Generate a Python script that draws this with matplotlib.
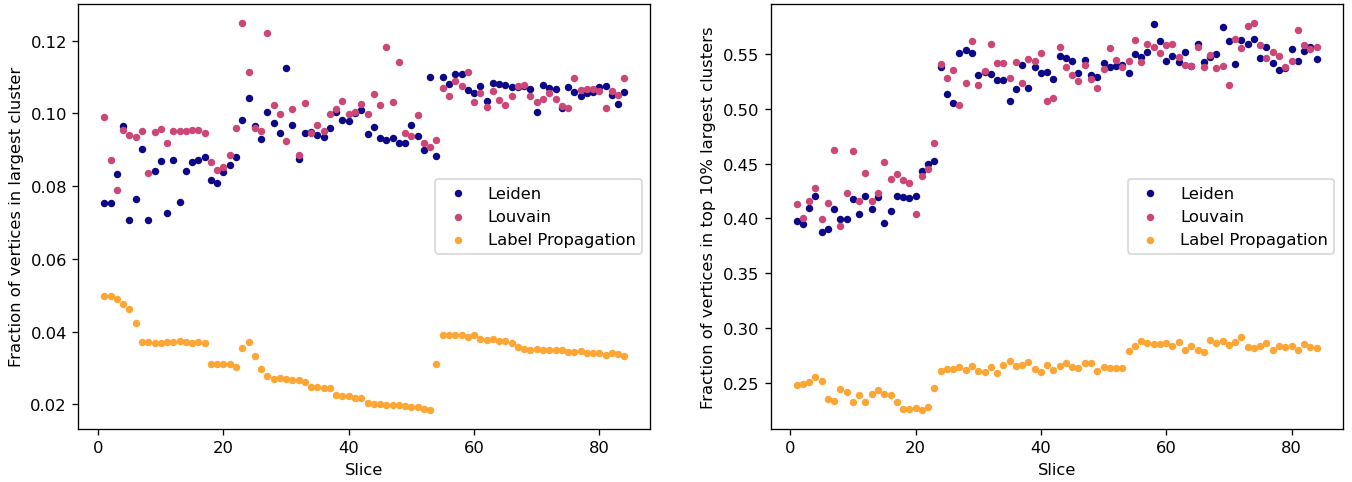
import numpy as np
import matplotlib
matplotlib.use("Agg")
import matplotlib.pyplot as plt

# ==============================
# DADOS
# ==============================

slices = list(range(1, 85))

# fraction of vertices in the largest cluster
leiden_largest = [
    0.0753, 0.0753, 0.0833, 0.0966, 0.0708, 0.0764, 0.0903, 0.0708, 0.0843, 0.0869,
    0.0726, 0.0871, 0.0757, 0.0843, 0.0867, 0.0871, 0.0880, 0.0818, 0.0810, 0.0839,
    0.0858, 0.0879, 0.0983, 0.1042, 0.0966, 0.0931, 0.1005, 0.0974, 0.0946, 0.1126,
    0.0968, 0.0876, 0.0945, 0.0948, 0.0941, 0.0936, 0.0959, 0.1005, 0.0982, 0.0980,
    0.1000, 0.1008, 0.0944, 0.0962, 0.0933, 0.0927, 0.0932, 0.0919, 0.0918, 0.0969,
    0.0937, 0.0899, 0.1100, 0.0883, 0.1100, 0.1080, 0.1107, 0.1107, 0.1065, 0.1055,
    0.1074, 0.1035, 0.1084, 0.1081, 0.1079, 0.1072, 0.1072, 0.1076, 0.1066, 0.1004,
    0.1077, 0.1071, 0.1066, 0.1016, 0.1072, 0.1059, 0.1047, 0.1056, 0.1058, 0.1072,
    0.1076, 0.1051, 0.1027, 0.1059,
]
louvain_largest = [
    0.0989, 0.0871, 0.0790, 0.0954, 0.0942, 0.0934, 0.0951, 0.0835, 0.0948, 0.0956,
    0.0919, 0.0951, 0.0953, 0.0951, 0.0954, 0.0954, 0.0946, 0.0867, 0.0844, 0.0852,
    0.0886, 0.0959, 0.1248, 0.1115, 0.0961, 0.0953, 0.1220, 0.1022, 0.0998, 0.0924,
    0.1012, 0.0887, 0.1029, 0.0945, 0.0969, 0.0952, 0.0997, 0.1011, 0.1033, 0.0998,
    0.1004, 0.1025, 0.0997, 0.1054, 0.1022, 0.1182, 0.1031, 0.1142, 0.0945, 0.0938,
    0.0995, 0.0920, 0.0907, 0.0926, 0.1071, 0.1049, 0.1089, 0.1076, 0.1113, 0.1032,
    0.1055, 0.1018, 0.1061, 0.1038, 0.1023, 0.1049, 0.1074, 0.1079, 0.1049, 0.1032,
    0.1039, 0.1055, 0.1040, 0.1019, 0.1016, 0.1096, 0.1063, 0.1067, 0.1068, 0.1062,
    0.1016, 0.1061, 0.1050, 0.1096,
]
labelprop_largest = [
    0.0497, 0.0497, 0.0491, 0.0475, 0.0463, 0.0425, 0.0372, 0.0371, 0.0370, 0.0370,
    0.0372, 0.0371, 0.0374, 0.0372, 0.0370, 0.0371, 0.0370, 0.0312, 0.0312, 0.0312,
    0.0312, 0.0303, 0.0355, 0.0372, 0.0332, 0.0298, 0.0278, 0.0270, 0.0272, 0.0269,
    0.0268, 0.0268, 0.0261, 0.0249, 0.0247, 0.0246, 0.0245, 0.0225, 0.0223, 0.0223,
    0.0219, 0.0219, 0.0203, 0.0202, 0.0201, 0.0198, 0.0198, 0.0199, 0.0195, 0.0193,
    0.0193, 0.0187, 0.0186, 0.0310, 0.0391, 0.0391, 0.0391, 0.0390, 0.0385, 0.0392,
    0.0381, 0.0377, 0.0379, 0.0375, 0.0374, 0.0370, 0.0357, 0.0352, 0.0350, 0.0353,
    0.0351, 0.0351, 0.0351, 0.0349, 0.0344, 0.0345, 0.0347, 0.0341, 0.0341, 0.0342,
    0.0337, 0.0341, 0.0338, 0.0334,
]

# fraction of vertices in the top 10% largest clusters
leiden_top10 = [
    0.3976, 0.3952, 0.4094, 0.4209, 0.3876, 0.3900, 0.4088, 0.3994, 0.3994, 0.4173,
    0.4042, 0.4203, 0.4082, 0.4200, 0.3955, 0.4070, 0.4209, 0.4200, 0.4182, 0.4209,
    0.4430, 0.4494, 0.4521, 0.5376, 0.5133, 0.5049, 0.5509, 0.5539, 0.5509, 0.5306,
    0.5333, 0.5321, 0.5264, 0.5261, 0.5073, 0.5176, 0.5400, 0.5188, 0.5379, 0.5324,
    0.5339, 0.5267, 0.5479, 0.5467, 0.5433, 0.5330, 0.5445, 0.5306, 0.5291, 0.5418,
    0.5379, 0.5394, 0.5403, 0.5330, 0.5500, 0.5470, 0.5515, 0.5773, 0.5618, 0.5436,
    0.5485, 0.5430, 0.5518, 0.5394, 0.5594, 0.5427, 0.5470, 0.5500, 0.5742, 0.5621,
    0.5409, 0.5624, 0.5594, 0.5636, 0.5461, 0.5564, 0.5415, 0.5355, 0.5370, 0.5545,
    0.5436, 0.5524, 0.5561, 0.5452,
]
louvain_top10 = [
    0.4130, 0.4000, 0.4158, 0.4273, 0.3991, 0.4145, 0.4621, 0.3927, 0.4233, 0.4612,
    0.4155, 0.4415, 0.4155, 0.4233, 0.4512, 0.4364, 0.4406, 0.4352, 0.4327, 0.4042,
    0.4385, 0.4452, 0.4691, 0.5409, 0.5282, 0.5349, 0.5030, 0.5233, 0.5615, 0.5218,
    0.5345, 0.5594, 0.5415, 0.5415, 0.5282, 0.5424, 0.5236, 0.5455, 0.5433, 0.5506,
    0.5070, 0.5097, 0.5561, 0.5379, 0.5309, 0.5255, 0.5397, 0.5270, 0.5191, 0.5364,
    0.5555, 0.5445, 0.5385, 0.5433, 0.5630, 0.5430, 0.5591, 0.5561, 0.5506, 0.5582,
    0.5591, 0.5473, 0.5400, 0.5388, 0.5567, 0.5376, 0.5494, 0.5373, 0.5394, 0.5215,
    0.5633, 0.5555, 0.5755, 0.5780, 0.5585, 0.5461, 0.5521, 0.5482, 0.5385, 0.5433,
    0.5718, 0.5582, 0.5548, 0.5567,
]
labelprop_top10 = [
    0.2479, 0.2494, 0.2512, 0.2555, 0.2521, 0.2358, 0.2333, 0.2448, 0.2418, 0.2330,
    0.2388, 0.2330, 0.2403, 0.2433, 0.2403, 0.2394, 0.2330, 0.2261, 0.2261, 0.2270,
    0.2258, 0.2279, 0.2458, 0.2612, 0.2627, 0.2627, 0.2648, 0.2615, 0.2658, 0.2609,
    0.2603, 0.2642, 0.2594, 0.2664, 0.2703, 0.2655, 0.2664, 0.2691, 0.2627, 0.2603,
    0.2667, 0.2621, 0.2658, 0.2679, 0.2648, 0.2633, 0.2679, 0.2685, 0.2612, 0.2648,
    0.2639, 0.2636, 0.2636, 0.2788, 0.2839, 0.2882, 0.2864, 0.2852, 0.2852, 0.2867,
    0.2839, 0.2876, 0.2800, 0.2836, 0.2803, 0.2785, 0.2894, 0.2864, 0.2882, 0.2842,
    0.2876, 0.2918, 0.2827, 0.2815, 0.2839, 0.2867, 0.2803, 0.2836, 0.2827, 0.2836,
    0.2797, 0.2852, 0.2830, 0.2821,
]

metodos = ["Leiden", "Louvain", "Label Propagation"]
cores = ["#0d0887", "#cc4778", "#fca636"]

# ==============================
# GRAFICOS
# ==============================

fig, (ax1, ax2) = plt.subplots(1, 2, figsize=(11.458, 4.093), dpi=118)

for serie, nome, cor in zip([leiden_largest, louvain_largest, labelprop_largest], metodos, cores):
    ax1.scatter(slices, serie, s=12.5, color=cor, label=nome)
ax1.set_xlabel("Slice")
ax1.set_ylabel("Fraction of vertices in largest cluster")
ax1.legend(loc="center right")

for serie, nome, cor in zip([leiden_top10, louvain_top10, labelprop_top10], metodos, cores):
    ax2.scatter(slices, serie, s=12.5, color=cor, label=nome)
ax2.set_xlabel("Slice")
ax2.set_ylabel("Fraction of vertices in top 10% largest clusters")
ax2.legend(loc="center right")

fig.subplots_adjust(left=0.058, right=0.993, top=0.99, bottom=0.11, wspace=0.21)
fig.savefig("out.png")
